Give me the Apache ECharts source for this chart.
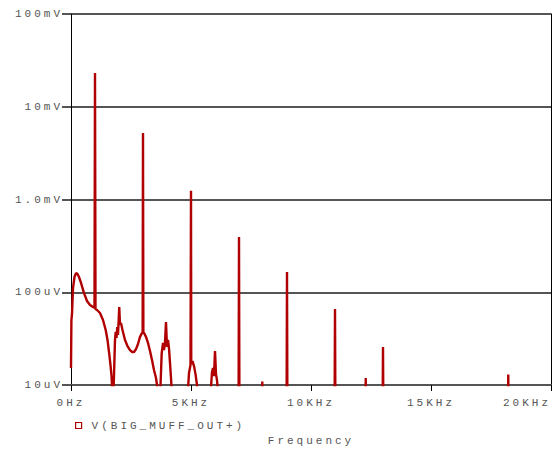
<!DOCTYPE html>
<html>
<head>
<meta charset="utf-8">
<script src="https://cdn.jsdelivr.net/npm/echarts@6/dist/echarts.min.js"></script>
<style>
  html, body { margin: 0; padding: 0; background: #fff; }
  #chart { width: 556px; height: 449px; }
  #chart text { letter-spacing: 3px; }
</style>
</head>
<body>
<div id="chart"></div>
<script>
// Frequency (Hz) of each trace point
const freqHz = [
  0, 17, 42, 83, 146, 208, 271, 333, 417, 542, 667, 792, 917, 979, 1000, 1021,
  1083, 1208, 1333, 1446, 1521, 1583, 1646, 1688, 1729, 1750, 1792, 1833, 1863,
  1896, 1929, 1958, 2010, 2042, 2083, 2146, 2250, 2354, 2458, 2542, 2625, 2708,
  2792, 2875, 2958, 2985, 3000, 3015, 3042, 3125, 3208, 3292, 3375, 3458, 3542,
  3625, 3708, 3779, 3833, 3875, 3917, 3958, 4000, 4042, 4083, 4125, 4167, 4208,
  4500, 4862, 4917, 4979, 4990, 5000, 5010, 5062, 5125, 5188, 5250, 5292, 5600,
  5812, 5875, 5917, 5958, 6000, 6042, 6083, 6137, 6500, 6980, 7000, 7020,
  7950, 7970, 7990, 8980, 9000, 9020, 10980, 11000, 11020, 12260, 12280, 12300,
  12980, 13000, 13020, 18200, 18220, 18240, 20000
];
// Amplitude of each trace point (uV)
const ampUV = [
  15.2, 50, 58, 111, 146, 161, 157, 146, 126, 98, 80.5, 72.9, 69.3, 68, 23100, 66,
  64.4, 59.7, 50.2, 39.2, 30.6, 22.7, 16.4, 12.5, 8, 6, 12.8, 30.6, 37.3,
  32.2, 42.2, 34.6, 69.3, 44.3, 46.6, 39.2, 30.6, 26.3, 23.8, 22.7, 22.7, 24.4,
  27.7, 33, 36.4, 36.8, 5210, 36.8, 36.4, 33, 28.4, 23.3, 18.6, 14.5, 11.9,
  8.4, 6.9, 22.1, 28.4, 23.8, 29, 47.8, 25.7, 30.6, 25, 17.3, 11.9, 7.8,
  3, 7.8, 13.5, 16.4, 16.6, 1240, 17, 18.1, 16, 13.1, 10, 7.8, 3,
  7.8, 13.8, 15.2, 12.5, 23.3, 13.1, 11.3, 7.8, 3, 3, 394, 3,
  3, 10.9, 3, 3, 165, 3, 3, 66, 3, 3, 11.9, 3,
  3, 25.7, 3, 3, 13, 3, 3
];
const xTicksHz = [0, 5000, 10000, 15000, 20000];
const xTickLabels = ['0Hz', '5KHz', '10KHz', '15KHz', '20KHz'];
const yTicksUV = [10, 100, 1000, 10000, 100000];
const yTickLabels = ['10uV', '100uV', '1.0mV', '10mV', '100mV'];
const seriesName = 'V(BIG_MUFF_OUT+)';
const axisTitle = 'Frequency';

const RED = '#b00000';
const TXT = '#555555';
const FONT = 'Liberation Mono';

const chart = echarts.init(document.getElementById('chart'), null, { renderer: 'svg' });
const data = freqHz.map((f, i) => [f, ampUV[i]]);

chart.setOption({
  animation: false,
  backgroundColor: '#ffffff',
  grid: { left: 71, right: 5, top: 14, bottom: 64, show: false, containLabel: false, outerBoundsMode: 'none' },
  legend: {
    left: 75, top: 420, padding: 0,
    itemWidth: 6, itemHeight: 6,
    data: [{ name: seriesName, icon: 'rect', itemStyle: { color: '#ffffff', borderColor: RED, borderWidth: 1.2 } }],
    textStyle: { fontFamily: FONT, fontSize: 11, color: TXT, padding: [0, 0, 0, 5] }
  },
  xAxis: {
    type: 'value', min: 0, max: 20000, interval: 5000,
    axisLine: { show: true, lineStyle: { color: '#555', width: 2 } },
    axisTick: { show: true, length: 6, lineStyle: { color: '#000', width: 1 } },
    axisLabel: {
      formatter: v => { const i = xTicksHz.indexOf(v); return i >= 0 ? xTickLabels[i] : ''; },
      color: TXT, fontFamily: FONT, fontSize: 11, margin: 12, alignMaxLabel: 'right'
    },
    splitLine: { show: false },
    name: axisTitle, nameLocation: 'middle', nameGap: 50,
    nameTextStyle: { fontFamily: FONT, fontSize: 11, color: TXT }
  },
  yAxis: [{
    type: 'log', logBase: 10, min: 10, max: 100000,
    axisLine: { show: true, lineStyle: { color: '#000', width: 1 } },
    axisTick: { show: true, length: 9, lineStyle: { color: '#555', width: 2 } },
    axisLabel: {
      formatter: v => { const i = yTicksUV.findIndex(t => Math.abs(t - v) / t < 1e-6); return i >= 0 ? yTickLabels[i] : ''; },
      color: TXT, fontFamily: FONT, fontSize: 11, margin: 8
    },
    splitLine: { show: true, lineStyle: { color: '#555', width: 2 } },
    minorTick: { show: false }
  }, {
    type: 'log', logBase: 10, min: 10, max: 100000, position: 'right',
    axisLine: { show: true, lineStyle: { color: '#000', width: 1 } },
    axisTick: { show: false }, axisLabel: { show: false }, splitLine: { show: false }
  }],
  series: [{
    name: seriesName,
    type: 'line',
    data: data,
    showSymbol: false,
    symbol: 'rect',
    clip: true,
    lineStyle: { color: RED, width: 2.4 },
    itemStyle: { color: RED }
  }]
});
</script>
</body>
</html>
